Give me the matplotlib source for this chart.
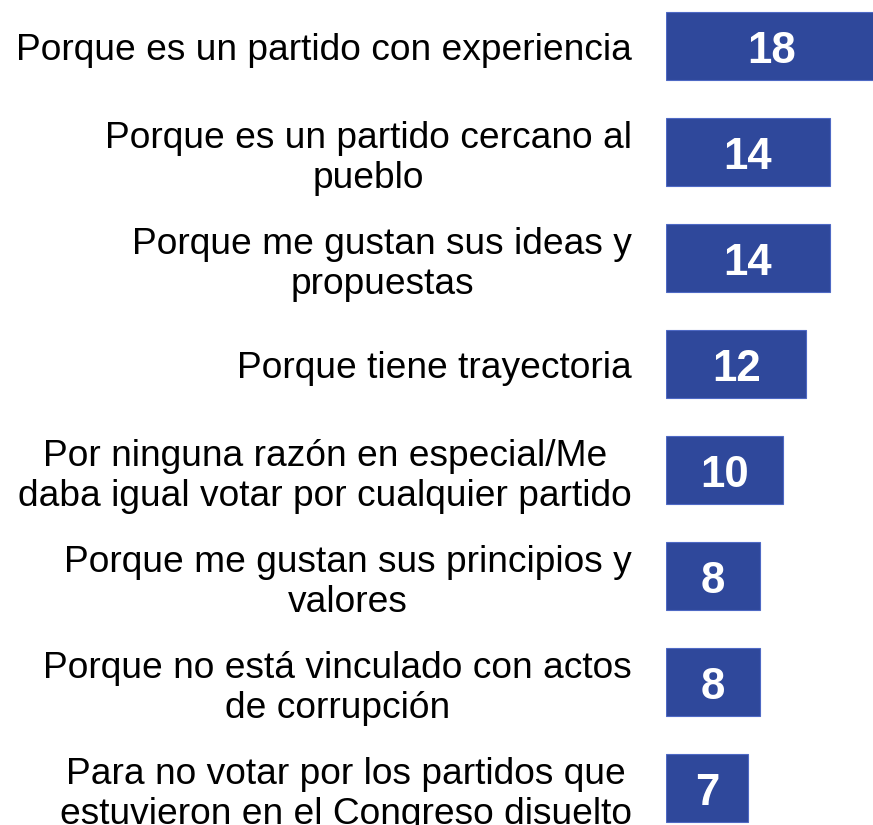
import matplotlib
matplotlib.use('Agg')
import matplotlib.pyplot as plt
from matplotlib import rcParams

rcParams.update({
    "font.family": ['Liberation Sans', 'DejaVu Sans'],
})

# datos
razones = [
    "Porque es un partido con experiencia",
    "Porque es un partido cercano al\npueblo",
    "Porque me gustan sus ideas y\npropuestas",
    "Porque tiene trayectoria",
    "Por ninguna razón en especial/Me\ndaba igual votar por cualquier partido",
    "Porque me gustan sus principios y\nvalores",
    "Porque no está vinculado con actos\nde corrupción",
    "Para no votar por los partidos que\nestuvieron en el Congreso disuelto",
]
porcentajes = [18, 14, 14, 12, 10, 8, 8, 7]

fig = plt.figure(figsize=(8.73, 8.25), dpi=100)
ax = fig.add_axes([666 / 873, 0.0, 1 - 666 / 873, 1.0])

pos = list(range(len(razones)))
ax.barh(pos, porcentajes, height=0.64, color='#2F489B',
        edgecolor='#4E69C4', linewidth=0.8)

# numero centrado en la barra (baseline un poco bajo el centro)
for p, v in zip(pos, porcentajes):
    ax.annotate(str(v), (v / 2, p), xytext=(0, -12.3), textcoords='offset points',
                ha='center', va='baseline', color='white',
                fontsize=31.5, fontweight='bold')

ax.set_xlim(0, 17.68)
ax.set_ylim(7.349, -0.434)
ax.set_yticks(pos, razones)
ax.tick_params(axis='y', length=0, pad=24.5, labelsize=26.75)
for t in ax.get_yticklabels():
    t.set_multialignment('center')
ax.set_xticks([])
for s in ax.spines.values():
    s.set_visible(False)

plt.savefig('out.png', dpi=100)
plt.close()
